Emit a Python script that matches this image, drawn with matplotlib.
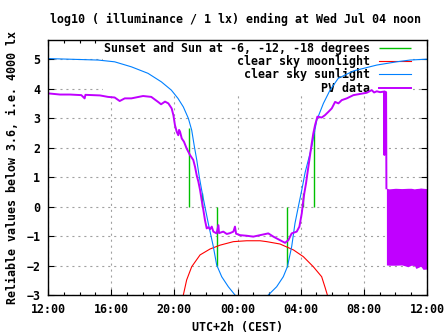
import matplotlib
matplotlib.use("Agg")
import matplotlib.pyplot as plt
from matplotlib.ticker import MultipleLocator, FixedLocator

# hours counted from Tue 12:00 (CEST) to Wed 12:00
HOUR_LABELS = ["12:00", "16:00", "20:00", "00:00", "04:00", "08:00", "12:00"]

# clear sky sunlight, log10(lx)
sun_t = [0.00, 3.17, 4.22, 5.28, 6.33, 7.18, 7.81, 8.23, 8.57, 8.89, 9.10, 9.27,
         9.42, 9.58, 9.73, 9.94, 10.15, 10.47, 10.68, 11.00, 11.42, 11.84]
sun_v = [5.02, 4.97, 4.91, 4.74, 4.52, 4.23, 3.95, 3.67, 3.38, 2.99, 2.59, 2.03,
         1.58, 1.01, 0.56, -0.01, -0.57, -1.36, -1.98, -2.38, -2.72, -3.00]
sunrise_t = [13.95, 14.48, 14.90, 15.16, 15.43, 15.64, 15.85, 16.07, 16.28, 16.70,
             17.02, 17.44, 17.86, 18.38, 19.34, 19.55, 20.82, 22.08, 22.93, 24.00]
sunrise_v = [-3.00, -2.72, -2.38, -2.04, -1.36, -0.57, -0.01, 0.56, 1.15, 2.03,
             2.93, 3.50, 3.95, 4.35, 4.60, 4.63, 4.80, 4.91, 4.97, 5.00]

# clear sky moonlight
moon_t = [8.57, 8.78, 9.10, 9.63, 10.26, 10.89, 11.74, 12.58, 13.43, 13.85,
          14.69, 15.54, 16.17, 16.80, 17.33, 17.55, 17.69]
moon_v = [-3.00, -2.49, -2.04, -1.64, -1.44, -1.31, -1.19, -1.16, -1.16, -1.19,
          -1.27, -1.47, -1.70, -2.04, -2.38, -2.75, -3.00]

# sunset/sunrise and sun at -6, -12 degrees (no -18 this time of year)
event_t = [8.95, 9.73, 10.68, 15.16, 16.13, 16.87]
event_v = [2.65, 0.45, -2.00, -2.04, 0.45, 2.60]

# PV sensor
pv_t = [0.00, 0.76, 1.39, 2.11, 2.32, 2.37, 3.29, 3.80, 4.22, 4.54, 4.86, 5.28,
        6.02, 6.54, 6.97, 7.16, 7.41, 7.62, 7.83, 7.94, 8.04, 8.15, 8.25, 8.30,
        8.36, 8.47, 8.61, 8.78, 8.99, 9.20, 9.31, 9.42, 9.52, 9.63, 9.73, 9.84,
        9.94, 10.05, 10.15, 10.26, 10.37, 10.47, 10.68, 10.79, 10.83, 11.10, 11.32,
        11.53, 11.74, 11.84, 11.91, 12.16, 12.58, 13.00, 13.43, 13.95, 14.27, 14.69,
        15.01, 15.22, 15.43, 15.75, 15.92, 16.07, 16.17, 16.23, 16.34, 16.42, 16.55,
        16.70, 16.80, 16.91, 17.06, 17.33, 17.54, 17.75, 17.97, 18.18, 18.39, 18.60,
        18.92, 19.34, 19.76, 20.18, 20.50, 20.65, 20.82, 21.03, 21.28, 21.30, 21.32,
        21.41, 21.43]
pv_v = [3.84, 3.80, 3.80, 3.78, 3.67, 3.79, 3.77, 3.72, 3.70, 3.58, 3.67, 3.67,
        3.75, 3.72, 3.55, 3.47, 3.56, 3.50, 3.33, 3.10, 2.76, 2.54, 2.42, 2.60,
        2.54, 2.31, 2.20, 1.97, 1.75, 1.58, 1.35, 1.05, 0.85, 0.56, 0.22, -0.12,
        -0.46, -0.74, -0.70, -0.77, -0.68, -0.85, -0.91, -0.63, -0.90, -0.85, -0.93,
        -0.90, -0.85, -0.68, -0.92, -0.97, -0.99, -1.02, -0.97, -0.91, -1.02, -1.14,
        -1.23, -1.14, -0.91, -0.85, -0.68, -0.23, 0.22, 0.45, 0.79, 1.10, 1.58,
        2.14, 2.48, 2.76, 3.05, 3.02, 3.10, 3.21, 3.33, 3.55, 3.50, 3.61,
        3.67, 3.78, 3.82, 3.86, 3.95, 3.87, 3.91, 3.88, 3.90, 1.75, 3.90,
        3.88, 0.62]

# sensor flapping between two readings at the end
band_t = [21.43, 21.60, 22.00, 22.40, 22.80, 23.00, 23.20, 23.30, 23.50, 23.60, 23.75, 24.00]
band_hi = [0.62, 0.60, 0.62, 0.61, 0.62, 0.62, 0.60, 0.61, 0.62, 0.63, 0.62, 0.61]
band_lo = [-1.98, -1.99, -1.99, -1.98, -2.04, -1.99, -2.00, -2.10, -2.05, -2.02, -2.13, -2.12]

GREEN = "#00c000"
RED = "#ff0000"
BLUE = "#0080ff"
PURPLE = "#c000ff"

FONT = {"family": "DejaVu Sans Mono", "weight": "bold", "size": 8.4}
plt.rcParams["font.family"] = "DejaVu Sans Mono"
plt.rcParams["font.weight"] = "bold"
plt.rcParams["font.size"] = 8.4
plt.rcParams["lines.scale_dashes"] = False


def main():
    fig = plt.figure(figsize=(4.47, 3.35), dpi=100)
    ax = fig.add_axes([48 / 447, 1 - 295 / 335, 379 / 447, 255 / 335])

    ax.vlines(event_t, 0, event_v, color=GREEN, linewidth=1.0,
              label="Sunset and Sun at -6, -12, -18 degrees")
    ax.plot(moon_t, moon_v, color=RED, linewidth=0.8, label="clear sky moonlight")
    ax.plot(sun_t, sun_v, color=BLUE, linewidth=0.8, label="clear sky sunlight")
    ax.plot(sunrise_t, sunrise_v, color=BLUE, linewidth=0.8)
    ax.plot(pv_t, pv_v, color=PURPLE, linewidth=1.4, label="PV data")
    ax.fill_between(band_t, band_lo, band_hi, color=PURPLE, linewidth=0)

    ax.set_xlim(0, 24)
    ax.set_ylim(-3, 5.65)
    ax.xaxis.set_major_locator(FixedLocator(range(0, 25, 4)))
    ax.set_xticklabels(HOUR_LABELS)
    ax.xaxis.set_minor_locator(MultipleLocator(1))
    ax.yaxis.set_major_locator(FixedLocator(range(-3, 6)))
    ax.tick_params(direction="in", top=True, right=True, length=4, width=0.8)
    ax.tick_params(which="minor", direction="in", top=True, right=True, length=2.2, width=0.8)
    ax.tick_params(axis="y", pad=5.5)
    ax.tick_params(axis="x", pad=6)
    for s in ax.spines.values():
        s.set_linewidth(1.0)

    ax.set_axisbelow(True)
    ax.grid(True, which="major", color="#a0a0a0", linewidth=0.8, linestyle=(0, (1.5, 2.8)))

    # key box sits over the grid but under the curves
    leg = ax.legend(loc="upper right", bbox_to_anchor=(365 / 379, 1.0),
                    markerfirst=False, frameon=True, fancybox=False,
                    facecolor="white", edgecolor="none", framealpha=1,
                    borderaxespad=0.0, borderpad=0.15, handlelength=2.8,
                    handletextpad=0.7, labelspacing=0.02)
    leg.set_zorder(1.5)

    fig.text(236 / 447, 1 - 19 / 335, "log10 ( illuminance / 1 lx) ending at Wed Jul 04 noon",
             ha="center", va="center", fontdict=FONT)
    fig.text(13 / 447, 1 - 167 / 335, "Reliable values below 3.6, i.e. 4000 lx",
             ha="center", va="center", rotation=90, fontdict=FONT)
    fig.text(237 / 447, 1 - 328 / 335, "UTC+2h (CEST)", ha="center", va="center", fontdict=FONT)

    fig.savefig("out.png", dpi=100)


if __name__ == "__main__":
    main()
